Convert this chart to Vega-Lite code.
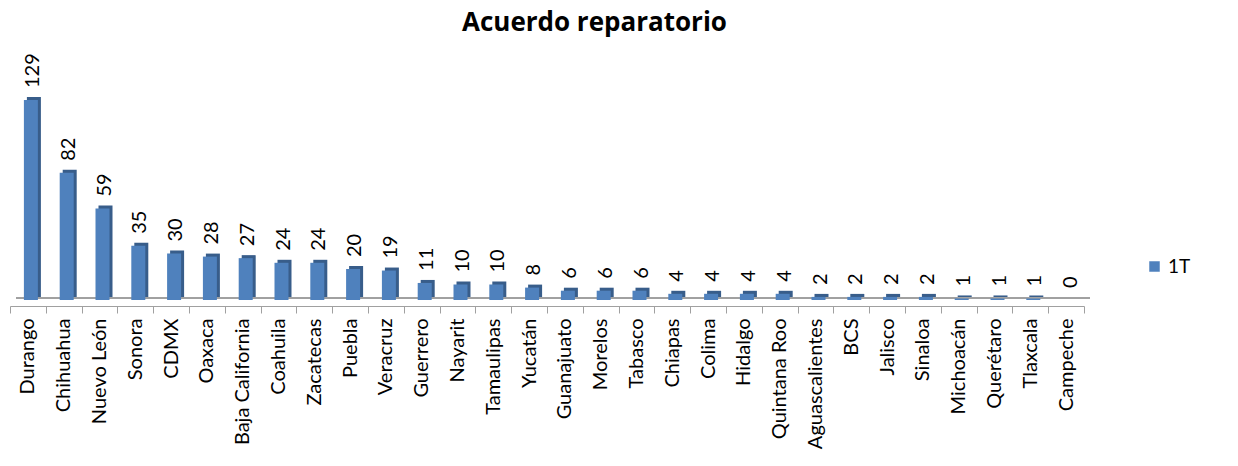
{
  "$schema": "https://vega.github.io/schema/vega-lite/v6.json",
  "width": 1074,
  "height": 200,
  "autosize": "none",
  "padding": {"left": 10, "top": 100, "right": 154, "bottom": 166},
  "background": "white",
  "config": {"view": {"stroke": null}, "font": "Lato"},
  "title": {"text": "Acuerdo reparatorio", "fontSize": 26, "fontWeight": "bold", "font": "Open Sans", "color": "#000000", "anchor": "start", "frame": "group", "dx": 452, "dy": -13},
  "data": {"values": [
    {"estado": "Durango", "valor": 129, "serie": "1T"},
    {"estado": "Chihuahua", "valor": 82, "serie": "1T"},
    {"estado": "Nuevo León", "valor": 59, "serie": "1T"},
    {"estado": "Sonora", "valor": 35, "serie": "1T"},
    {"estado": "CDMX", "valor": 30, "serie": "1T"},
    {"estado": "Oaxaca", "valor": 28, "serie": "1T"},
    {"estado": "Baja California", "valor": 27, "serie": "1T"},
    {"estado": "Coahuila", "valor": 24, "serie": "1T"},
    {"estado": "Zacatecas", "valor": 24, "serie": "1T"},
    {"estado": "Puebla", "valor": 20, "serie": "1T"},
    {"estado": "Veracruz", "valor": 19, "serie": "1T"},
    {"estado": "Guerrero", "valor": 11, "serie": "1T"},
    {"estado": "Nayarit", "valor": 10, "serie": "1T"},
    {"estado": "Tamaulipas", "valor": 10, "serie": "1T"},
    {"estado": "Yucatán", "valor": 8, "serie": "1T"},
    {"estado": "Guanajuato", "valor": 6, "serie": "1T"},
    {"estado": "Morelos", "valor": 6, "serie": "1T"},
    {"estado": "Tabasco", "valor": 6, "serie": "1T"},
    {"estado": "Chiapas", "valor": 4, "serie": "1T"},
    {"estado": "Colima", "valor": 4, "serie": "1T"},
    {"estado": "Hidalgo", "valor": 4, "serie": "1T"},
    {"estado": "Quintana Roo", "valor": 4, "serie": "1T"},
    {"estado": "Aguascalientes", "valor": 2, "serie": "1T"},
    {"estado": "BCS", "valor": 2, "serie": "1T"},
    {"estado": "Jalisco", "valor": 2, "serie": "1T"},
    {"estado": "Sinaloa", "valor": 2, "serie": "1T"},
    {"estado": "Michoacán", "valor": 1, "serie": "1T"},
    {"estado": "Querétaro", "valor": 1, "serie": "1T"},
    {"estado": "Tlaxcala", "valor": 1, "serie": "1T"},
    {"estado": "Campeche", "valor": 0, "serie": "1T"}
  ]},
  "encoding": {
    "x": {"field": "estado", "type": "nominal", "sort": null,
      "scale": {"paddingInner": 0, "paddingOuter": 0},
      "axis": {"title": null, "labelAngle": -90, "labelFontSize": 20, "labelFont": "Lato", "labelColor": "#000000", "labelPadding": 5, "tickBand": "extent", "tickSize": 7, "tickColor": "#A0A0A0", "domainColor": "#A0A0A0", "offset": 6}},
    "y": {"field": "valor", "type": "quantitative", "scale": {"domain": [0, 129], "nice": false}, "axis": null}
  },
  "layer": [
    {"mark": {"type": "rule", "color": "#A0A0A0", "strokeWidth": 1}, "encoding": {"x": {"value": 6}, "x2": {"value": 1080}, "y": {"value": 198}}},
    {"mark": {"type": "bar", "width": 14, "xOffset": 6, "yOffset": -3, "color": "#385D8A", "clip": false}},
    {"mark": {"type": "bar", "width": 14, "xOffset": 3},
      "encoding": {"color": {"field": "serie", "type": "nominal", "scale": {"range": ["#4F81BD"]},
        "legend": {"title": null, "orient": "none", "legendX": 1135, "legendY": 157, "labelFontSize": 19, "labelFont": "Lato", "labelColor": "#000000", "symbolType": "square", "symbolSize": 110, "symbolStrokeWidth": 0}}}},
    {"mark": {"type": "text", "angle": 270, "align": "left", "baseline": "middle", "fontSize": 20, "font": "Lato", "color": "#000000", "xOffset": 5, "yOffset": -12},
      "encoding": {"text": {"field": "valor", "type": "quantitative"}}}
  ]
}
